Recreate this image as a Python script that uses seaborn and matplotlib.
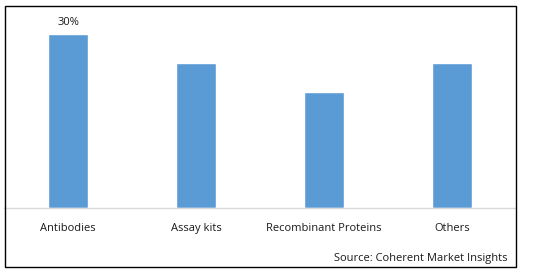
import matplotlib
matplotlib.use("Agg")
import matplotlib.pyplot as plt
import seaborn as sns
import pandas as pd
from matplotlib.patches import Rectangle

categories = ["Antibodies", "Assay kits", "Recombinant Proteins", "Others"]
values = [30, 25, 20, 25]
label_text = ["30%", "", "", ""]
source = "Source: Coherent Market Insights"

df = pd.DataFrame({"cat": categories, "val": values})

sns.set_theme(style="white")
plt.rcParams["font.family"] = ["Open Sans", "DejaVu Sans"]

W, H = 538, 272
fig = plt.figure(figsize=(W / 100, H / 100), dpi=100)
ax = fig.add_axes([4 / W, 1 - 208 / H, 512 / W, 203 / H])

sns.barplot(data=df, x="cat", y="val", color="#5B9BD5", width=0.31,
            saturation=1, ax=ax)
ax.set_ylim(0, 35)
ax.set_xlim(-0.5, len(categories) - 0.5)
ax.set_xlabel("")
ax.set_ylabel("")
ax.set_yticks([])
for s in ["top", "left", "right"]:
    ax.spines[s].set_visible(False)
ax.spines["bottom"].set_color("#D9D9D9")
ax.spines["bottom"].set_linewidth(1)
ax.tick_params(axis="x", length=0, pad=10.5, labelsize=8, labelcolor="#1a1a1a")
ax.patch.set_alpha(0)

for i, (v, t) in enumerate(zip(values, label_text)):
    if t:
        ax.annotate(t, (i, v), xytext=(0, 4), textcoords="offset points",
                    ha="center", va="bottom", fontsize=8, color="#1a1a1a")

fig.text(507 / W, 1 - 259 / H, source, ha="right", va="center",
         fontsize=8, color="#1a1a1a")

fig.patches.append(Rectangle((4.5 / W, 5.5 / H), 511 / W, 261 / H,
                             transform=fig.transFigure, fill=False,
                             edgecolor="black", linewidth=1))

fig.savefig("out.png", dpi=100)
